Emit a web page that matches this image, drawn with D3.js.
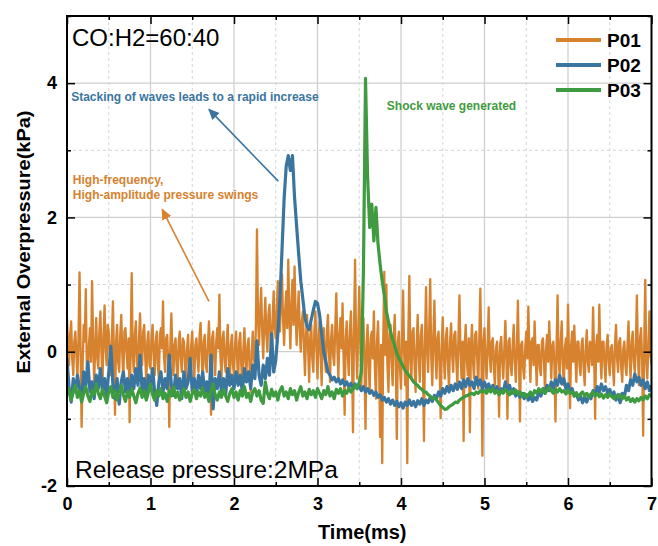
<!DOCTYPE html>
<html>
<head>
<meta charset="utf-8">
<script src="https://cdn.jsdelivr.net/npm/d3@7/dist/d3.min.js"></script>
<style>
  html, body { margin: 0; padding: 0; background: #fff; }
  svg { display: block; }
</style>
</head>
<body>
<svg id="chart" width="658" height="546"></svg>
<script>
// ---------------- DATA ----------------
const seriesNames = ["P01", "P02", "P03"];
const seriesColors = ["#D6822E", "#3A75A0", "#3F9B3F"];
const seriesSteps = [0.0125, 0.025, 0.025]; // ms between samples of each series
const xTickLabels = ["0", "1", "2", "3", "4", "5", "6", "7"];
const yTickLabels = ["-2", "0", "2", "4"];

const p01 = [
 0.50,0.10,-0.20,0.25,0.45,-0.10,-0.35,0.15,0.30,-0.05,-0.40,0.20,1.18,0.05,-1.12,-0.20,0.40,0.15,0.93,-0.25,
 -0.30,0.10,0.35,-0.15,1.05,0.20,-0.45,0.05,0.50,-0.10,-0.25,0.30,0.60,0.00,-0.50,0.25,0.69,0.05,-0.20,0.40,
 0.30,-0.05,-0.35,0.20,0.75,-0.10,-0.94,0.15,0.40,-0.15,-0.30,0.25,0.55,-0.05,-0.40,0.30,0.35,0.00,-0.25,0.20,
 -1.05,0.10,1.17,-0.05,-0.30,0.25,0.45,-0.15,-0.35,0.20,0.57,0.00,-0.20,0.30,0.40,-0.10,-0.45,0.15,0.30,-0.20,
 -0.25,0.20,0.40,-0.05,-0.35,0.15,0.30,-0.20,-0.40,0.25,0.35,0.05,0.75,-0.10,-0.30,0.20,0.25,-0.15,-1.12,0.10,
 0.57,-0.05,-0.35,0.10,0.20,-0.20,-0.45,0.15,0.30,-0.10,-0.30,0.20,0.15,-0.15,-0.50,0.05,0.25,-0.20,-0.35,0.10,
 0.30,-0.15,-0.40,0.10,0.20,-0.10,-0.30,0.25,0.43,-0.05,-0.45,0.15,0.25,-0.20,-0.30,0.10,0.45,0.00,-0.94,0.20,
 0.30,-0.10,-0.35,0.15,0.35,0.05,0.85,-0.05,-0.40,0.20,0.30,-0.15,-0.30,0.15,0.40,-0.10,-0.50,0.10,0.25,-0.20,
 -0.35,0.10,0.30,-0.10,-0.45,0.15,0.28,-0.20,-0.55,0.05,0.35,-0.15,-0.30,0.10,0.20,-0.25,-0.60,0.00,0.30,-0.10,
 -0.20,0.40,1.82,0.50,0.10,0.60,0.95,0.30,-0.10,0.45,0.80,0.25,0.00,0.55,0.70,0.20,-0.15,0.50,0.90,0.35,
 0.20,0.65,1.05,0.45,0.30,0.75,1.15,0.50,0.10,0.60,0.90,0.35,1.37,0.55,0.05,0.70,1.07,0.40,1.27,0.60,
 0.10,0.55,0.90,0.30,0.00,0.45,0.60,0.10,-0.35,0.25,0.55,0.05,-0.45,0.20,0.40,-0.10,-0.30,0.30,0.60,0.05,
 -0.40,0.20,0.45,-0.05,-0.50,0.25,0.35,-0.10,-0.30,0.30,0.55,0.00,-0.45,0.20,0.40,-0.05,-0.20,0.35,0.87,0.10,
 -0.40,0.25,0.50,0.05,0.72,-0.10,-0.94,0.20,0.45,-0.05,-0.35,0.30,0.60,0.00,-1.20,0.35,1.37,0.10,-0.40,0.30,
 0.97,0.15,-0.50,0.25,0.50,-0.20,-1.15,0.10,0.40,-0.15,-0.60,0.20,0.30,-0.10,0.60,-0.25,-0.70,0.15,0.45,-0.20,
 -1.27,0.10,-1.66,0.20,1.19,-0.05,1.00,-0.20,-0.60,0.25,0.40,-0.15,-0.50,0.20,0.55,-0.10,-1.30,0.15,0.30,-0.25,
 -0.55,0.20,0.91,0.00,-0.50,0.15,-1.66,0.25,1.13,-0.10,-0.40,0.30,0.35,-0.20,-0.60,0.10,0.55,-0.05,-0.45,0.25,
 0.40,-0.15,-1.33,0.20,0.96,0.00,-0.30,0.35,1.08,-0.10,-0.50,0.25,0.76,-0.05,-0.40,0.20,0.30,-0.25,-0.99,0.10,
 0.51,-0.10,-0.40,0.20,0.35,-0.20,-0.55,0.15,0.42,-0.05,-0.30,0.25,0.30,-0.15,-0.50,0.20,0.84,0.00,-0.40,0.15,
 -1.33,0.10,0.40,-0.10,-0.35,0.20,-1.20,0.05,0.40,-0.15,-0.40,0.25,0.30,-0.10,-0.55,0.20,0.94,0.00,-1.55,0.15,
 0.35,-0.15,-0.40,0.10,0.66,-0.05,-0.30,0.15,0.20,-0.25,-0.50,0.05,0.15,-0.20,-0.97,0.10,0.22,-0.15,-0.40,0.05,
 0.46,-0.10,-1.00,0.15,0.20,-0.20,-0.35,0.10,0.40,-0.15,-0.45,0.05,0.76,-0.10,-1.04,0.10,0.15,-0.25,-0.40,0.05,
 0.30,-0.10,0.67,0.00,-0.45,0.15,0.20,-0.20,0.45,-0.05,-0.50,0.10,0.10,-0.25,-0.35,0.15,0.20,-0.15,-0.60,0.05,
 0.25,-0.15,0.45,0.00,-0.40,0.10,0.15,-0.20,-1.04,0.05,0.84,-0.10,-0.35,0.15,0.45,-0.20,-0.50,0.05,0.20,-0.25,
 0.70,-0.10,-0.84,0.10,0.30,-0.15,0.39,-0.05,-0.45,0.15,0.15,-0.20,-0.35,0.10,0.20,-0.25,-0.50,0.05,0.32,-0.15,
 -0.30,0.15,0.10,-0.20,0.66,0.00,-1.00,0.10,0.25,-0.15,0.70,-0.05,-0.40,0.15,0.15,-0.20,-0.45,0.10,0.25,-0.15,
 -0.35,0.05,0.10,-0.20,-0.50,0.10,0.40,-0.10,-0.30,0.15,0.20,-0.25,-0.45,0.05,0.15,-0.20,-0.35,0.10,0.45,-0.10,
 -0.40,0.15,0.30,-0.15,-0.30,0.10,0.84,-0.05,-0.50,0.20,0.35,-0.10,-1.25,0.05,1.07,-0.15,-0.40,0.10,0.60,-0.05,
 -0.20
];

const p02 = [
 -0.10,-0.55,-0.75,-0.40,-0.60,-0.35,-0.55,-0.70,-0.30,-0.50,
 -0.15,-0.60,-0.45,-0.70,-0.35,-0.55,-0.25,-0.60,-0.40,-0.65,
 -0.30,0.08,-0.50,-0.70,-0.40,-0.78,-0.45,-0.30,-0.60,-0.40,
 -0.65,-0.35,-0.55,-0.25,-0.50,-0.05,-0.60,-0.40,-0.70,-0.35,
 -0.55,-0.25,-0.60,-0.80,-0.45,-0.30,-0.60,-0.40,-0.55,-0.05,
 -0.50,-0.65,-0.35,-0.55,-0.40,-0.70,-0.30,-0.55,-0.45,-0.10,
 -0.60,-0.40,-0.65,-0.35,-0.55,-0.30,-0.60,-0.45,-0.70,-0.05,
 -0.85,-0.40,-0.55,-0.30,-0.60,-0.40,-0.65,-0.25,-0.50,-0.35,
 -0.55,-0.30,-0.50,-0.35,-0.60,-0.25,-0.45,-0.30,-0.55,-0.20,
 -0.40,0.16,-0.35,-0.50,-0.20,-0.40,-0.10,-0.35,0.27,-0.30,
 -0.13,0.27,0.78,1.52,2.27,2.76,2.92,2.70,2.92,2.30,
 1.87,1.45,1.05,0.78,0.50,0.38,0.33,0.48,0.62,0.75,
 0.72,0.55,0.27,0.00,-0.15,-0.30,-0.35,-0.42,-0.38,-0.45,
 -0.40,-0.48,-0.42,-0.50,-0.45,-0.52,-0.47,-0.55,-0.48,-0.55,
 -0.50,-0.58,-0.52,-0.60,-0.55,-0.62,-0.58,-0.65,-0.60,-0.68,
 -0.64,-0.72,-0.68,-0.75,-0.70,-0.78,-0.72,-0.80,-0.74,-0.82,
 -0.76,-0.84,-0.75,-0.80,-0.72,-0.80,-0.74,-0.82,-0.73,-0.78,
 -0.70,-0.80,-0.72,-0.76,-0.68,-0.74,-0.65,-0.70,-0.60,-0.66,
 -0.55,-0.62,-0.52,-0.60,-0.50,-0.58,-0.48,-0.56,-0.45,-0.55,
 -0.42,-0.52,-0.40,-0.50,-0.45,-0.55,-0.38,-0.50,-0.42,-0.55,
 -0.45,-0.55,-0.48,-0.58,-0.50,-0.60,-0.52,-0.62,-0.55,-0.60,
 -0.45,-0.58,-0.50,-0.62,-0.55,-0.66,-0.60,-0.68,-0.62,-0.70,
 -0.64,-0.72,-0.66,-0.74,-0.68,-0.72,-0.60,-0.66,-0.55,-0.62,
 -0.50,-0.58,-0.45,-0.55,-0.42,-0.50,-0.35,-0.48,-0.40,-0.55,
 -0.48,-0.60,-0.55,-0.66,-0.62,-0.72,-0.66,-0.76,-0.68,-0.75,
 -0.65,-0.70,-0.58,-0.64,-0.52,-0.60,-0.48,-0.58,-0.52,-0.62,
 -0.56,-0.66,-0.60,-0.72,-0.64,-0.76,-0.62,-0.68,-0.50,-0.58,
 -0.42,-0.50,-0.33,-0.45,-0.38,-0.50,-0.42,-0.55,-0.45,-0.58,
 -0.50
];

const p03 = [
 -0.65,-0.55,-0.72,-0.60,-0.50,-0.68,-0.58,-0.75,-0.62,-0.52,
 -0.66,-0.74,-0.58,-0.64,-0.48,-0.62,-0.70,-0.56,-0.66,-0.76,
 -0.60,-0.52,-0.68,-0.58,-0.72,-0.62,-0.50,-0.64,-0.74,-0.60,
 -0.68,-0.55,-0.66,-0.76,-0.62,-0.54,-0.68,-0.58,-0.72,-0.60,
 -0.48,-0.64,-0.72,-0.58,-0.66,-0.55,-0.70,-0.62,-0.74,-0.58,
 -0.66,-0.52,-0.68,-0.60,-0.72,-0.64,-0.55,-0.68,-0.60,-0.74,
 -0.62,-0.56,-0.70,-0.60,-0.66,-0.54,-0.68,-0.62,-0.74,-0.58,
 -0.48,-0.64,-0.72,-0.60,-0.68,-0.56,-0.66,-0.74,-0.62,-0.55,
 -0.68,-0.60,-0.72,-0.58,-0.66,-0.52,-0.68,-0.62,-0.74,-0.60,
 -0.55,-0.66,-0.58,-0.72,-0.77,-0.45,-0.62,-0.70,-0.56,-0.66,
 -0.60,-0.72,-0.58,-0.52,-0.66,-0.60,-0.70,-0.55,-0.64,-0.58,
 -0.72,-0.60,-0.52,-0.66,-0.60,-0.70,-0.56,-0.64,-0.58,-0.68,
 -0.55,-0.62,-0.70,-0.58,-0.64,-0.52,-0.66,-0.60,-0.70,-0.56,
 -0.62,-0.55,-0.66,-0.58,-0.62,-0.54,-0.60,-0.56,-0.50,-0.55,
 -0.45,-0.30,1.20,4.07,2.60,1.85,2.20,1.65,2.15,1.60,
 1.30,1.05,0.85,0.60,0.45,0.30,0.18,0.08,-0.02,-0.10,
 -0.15,-0.22,-0.28,-0.32,-0.36,-0.40,-0.45,-0.48,-0.50,-0.54,
 -0.56,-0.60,-0.60,-0.64,-0.66,-0.70,-0.68,-0.72,-0.76,-0.80,
 -0.83,-0.86,-0.85,-0.82,-0.80,-0.78,-0.75,-0.76,-0.72,-0.70,
 -0.68,-0.66,-0.65,-0.63,-0.62,-0.64,-0.60,-0.62,-0.58,-0.60,
 -0.58,-0.62,-0.56,-0.60,-0.55,-0.62,-0.58,-0.64,-0.58,-0.62,
 -0.56,-0.60,-0.64,-0.58,-0.62,-0.57,-0.63,-0.60,-0.66,-0.62,
 -0.68,-0.64,-0.60,-0.66,-0.58,-0.62,-0.55,-0.60,-0.56,-0.62,
 -0.57,-0.53,-0.58,-0.62,-0.56,-0.60,-0.55,-0.60,-0.58,-0.63,
 -0.57,-0.62,-0.60,-0.66,-0.61,-0.67,-0.63,-0.60,-0.66,-0.62,
 -0.68,-0.63,-0.60,-0.66,-0.62,-0.67,-0.63,-0.69,-0.64,-0.68,
 -0.63,-0.67,-0.70,-0.65,-0.68,-0.64,-0.70,-0.66,-0.72,-0.68,
 -0.74,-0.70,-0.75,-0.70,-0.73,-0.68,-0.72,-0.66,-0.70,-0.64,
 -0.66
];

// annotations (data coordinates: t in ms, v in kPa)
const annoTexts = [
  { lines: ["Stacking of waves leads to a rapid increase"], t: 0.05, v: 3.73, color: 1 },
  { lines: ["Shock wave generated"], t: 3.83, v: 3.60, color: 2 },
  { lines: ["High-frequency,", "High-amplitude pressure swings"], t: 0.07, v: 2.50, color: 0 }
];
const arrows = [
  { from: [2.53, 2.54], to: [1.70, 3.61], color: 1 },
  { from: [1.70, 0.75], to: [1.14, 2.12], color: 0 }
];
const titleText = "CO:H2=60:40";
const noteText = "Release pressure:2MPa";
const xTitle = "Time(ms)";
const yTitle = "External Overpressure(kPa)";

// ---------------- LAYOUT ----------------
const W = 658, H = 546;
const margin = { left: 67, right: 6.5, top: 16, bottom: 60 };
const iw = W - margin.left - margin.right;
const ih = H - margin.top - margin.bottom;

const svg = d3.select("#chart");
const defs = svg.append("defs");
const g = svg.append("g").attr("transform", `translate(${margin.left},${margin.top})`);

const x = d3.scaleLinear().domain([0, 7]).range([0, iw]);
const y = d3.scaleLinear().domain([-2, 5]).range([ih, 0]);

const font = "'Liberation Sans', Arial, Helvetica, sans-serif";

// grid
const xMajor = d3.range(0, 8, 1);
const xMinor = d3.range(0.5, 7, 1);
const yMajor = d3.range(-2, 6, 2);
const yMinor = d3.range(-1, 6, 2);

g.append("g").selectAll("line").data(xMinor).join("line")
  .attr("x1", d => x(d)).attr("x2", d => x(d)).attr("y1", 0).attr("y2", ih)
  .attr("stroke", "#d4d4d4").attr("stroke-width", 1).attr("stroke-dasharray", "3,3");
g.append("g").selectAll("line").data(yMinor).join("line")
  .attr("y1", d => y(d)).attr("y2", d => y(d)).attr("x1", 0).attr("x2", iw)
  .attr("stroke", "#d4d4d4").attr("stroke-width", 1).attr("stroke-dasharray", "3,3");
g.append("g").selectAll("line").data(xMajor.filter(d => d > 0 && d < 7)).join("line")
  .attr("x1", d => x(d)).attr("x2", d => x(d)).attr("y1", 0).attr("y2", ih)
  .attr("stroke", "#cfcfcf").attr("stroke-width", 1.3);
g.append("g").selectAll("line").data(yMajor.filter(d => d > -2 && d < 5)).join("line")
  .attr("y1", d => y(d)).attr("y2", d => y(d)).attr("x1", 0).attr("x2", iw)
  .attr("stroke", "#cfcfcf").attr("stroke-width", 1.3);

// series
const allSeries = [p01, p02, p03];
const widths = [2.3, 3.2, 3.2];
defs.append("clipPath").attr("id", "clip")
  .append("rect").attr("width", iw).attr("height", ih);
const plot = g.append("g").attr("clip-path", "url(#clip)");
allSeries.forEach((s, k) => {
  const line = d3.line().x((d, i) => x(i * seriesSteps[k])).y(d => y(d));
  plot.append("path").datum(s)
    .attr("d", line)
    .attr("fill", "none")
    .attr("stroke", seriesColors[k])
    .attr("stroke-width", widths[k])
    .attr("stroke-linejoin", "round");
});

// axes with inward ticks
function styleAxis(sel) {
  sel.select(".domain").remove();
  sel.selectAll(".tick line").attr("stroke", "#000").attr("stroke-width", 1.5);
  sel.selectAll(".tick text").attr("font-family", font).attr("font-weight", "bold")
    .attr("font-size", 18).attr("fill", "#000");
}
g.append("g").attr("transform", `translate(0,${ih})`)
  .call(d3.axisBottom(x).tickValues(xMajor).tickFormat((d, i) => xTickLabels[i]).tickSizeInner(-8).tickSizeOuter(0).tickPadding(11))
  .call(styleAxis);
g.append("g").attr("transform", `translate(0,${ih})`)
  .call(d3.axisBottom(x).tickValues(xMinor).tickFormat("").tickSizeInner(-4).tickSizeOuter(0))
  .call(styleAxis);
g.append("g")
  .call(d3.axisTop(x).tickValues(xMajor).tickFormat("").tickSizeInner(-8).tickSizeOuter(0))
  .call(styleAxis);
g.append("g")
  .call(d3.axisTop(x).tickValues(xMinor).tickFormat("").tickSizeInner(-4).tickSizeOuter(0))
  .call(styleAxis);

g.append("g")
  .call(d3.axisLeft(y).tickValues(yMajor).tickFormat((d, i) => yTickLabels[i]).tickSizeInner(-8).tickSizeOuter(0).tickPadding(10))
  .call(styleAxis);
g.append("g")
  .call(d3.axisLeft(y).tickValues(yMinor).tickFormat("").tickSizeInner(-4).tickSizeOuter(0))
  .call(styleAxis);
g.append("g").attr("transform", `translate(${iw},0)`)
  .call(d3.axisRight(y).tickValues(yMajor).tickFormat("").tickSizeInner(-8).tickSizeOuter(0))
  .call(styleAxis);
g.append("g").attr("transform", `translate(${iw},0)`)
  .call(d3.axisRight(y).tickValues(yMinor).tickFormat("").tickSizeInner(-4).tickSizeOuter(0))
  .call(styleAxis);

// frame
g.append("rect").attr("x", 0).attr("y", 0).attr("width", iw).attr("height", ih)
  .attr("fill", "none").attr("stroke", "#000").attr("stroke-width", 2);

// axis titles
svg.append("text").text(xTitle)
  .attr("x", margin.left + iw / 2 + 3).attr("y", 539)
  .attr("text-anchor", "middle").attr("font-family", font).attr("font-weight", "bold")
  .attr("font-size", 20).attr("fill", "#000");
svg.append("text").text(yTitle)
  .attr("transform", `translate(29.5,242) rotate(-90)`)
  .attr("text-anchor", "middle").attr("font-family", font).attr("font-weight", "bold")
  .attr("font-size", 18).attr("textLength", 263).attr("lengthAdjust", "spacingAndGlyphs")
  .attr("fill", "#000");

// in-plot labels
g.append("text").text(titleText)
  .attr("x", 5).attr("y", 30)
  .attr("font-family", font).attr("font-size", 24).attr("fill", "#000");
g.append("text").text(noteText)
  .attr("x", 8).attr("y", ih - 8)
  .attr("font-family", font).attr("font-size", 24.5).attr("fill", "#000");

// annotations
annoTexts.forEach(a => {
  const tx = g.append("text")
    .attr("font-family", font).attr("font-weight", "bold").attr("font-size", 12)
    .attr("fill", seriesColors[a.color]);
  a.lines.forEach((ln, i) => {
    tx.append("tspan").attr("x", x(a.t)).attr("y", y(a.v) + i * 15).text(ln);
  });
});

seriesColors.forEach((c, k) => {
  defs.append("marker").attr("id", "arr" + k)
    .attr("viewBox", "0 0 10 10").attr("refX", 9).attr("refY", 5)
    .attr("markerWidth", 7).attr("markerHeight", 7).attr("markerUnits", "strokeWidth")
    .attr("orient", "auto")
    .append("path").attr("d", "M0,0.5 L10,5 L0,9.5 Z").attr("fill", c);
});
arrows.forEach(a => {
  g.append("line")
    .attr("x1", x(a.from[0])).attr("y1", y(a.from[1]))
    .attr("x2", x(a.to[0])).attr("y2", y(a.to[1]))
    .attr("stroke", seriesColors[a.color]).attr("stroke-width", 1.6)
    .attr("marker-end", `url(#arr${a.color})`);
});

// legend
const lg = svg.append("g");
seriesNames.forEach((n, k) => {
  const yy = 40 + k * 25;
  lg.append("line").attr("x1", 556).attr("x2", 601).attr("y1", yy).attr("y2", yy)
    .attr("stroke", seriesColors[k]).attr("stroke-width", 4);
  lg.append("text").text(n).attr("x", 607).attr("y", yy + 7)
    .attr("font-family", font).attr("font-weight", "bold").attr("font-size", 19).attr("fill", "#000");
});
</script>
</body>
</html>
